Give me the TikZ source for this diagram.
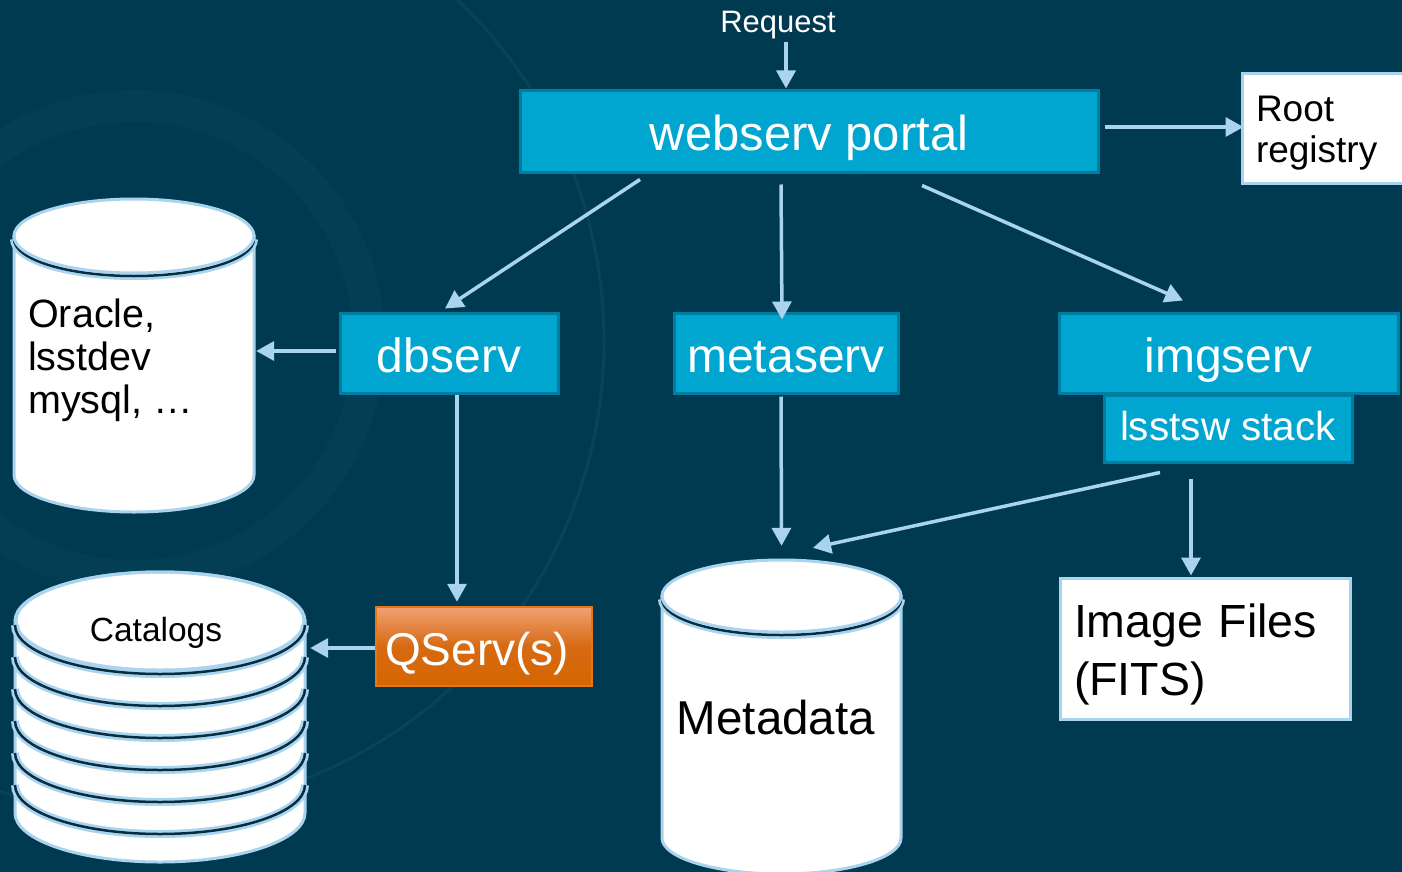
\documentclass[tikz,border=0pt]{standalone}
\usepackage{fontspec}
\setmainfont{Liberation Sans}
\usetikzlibrary{arrows.meta}
\definecolor{bg}{RGB}{0,58,80}
\definecolor{ringc}{RGB}{8,68,92}
\definecolor{ringt}{RGB}{20,78,100}
\definecolor{boxblue}{RGB}{0,165,208}
\definecolor{boxedge}{RGB}{0,126,162}
\definecolor{lineblue}{RGB}{170,212,238}
\definecolor{darkline}{RGB}{8,45,65}
\definecolor{qtop}{RGB}{242,160,115}
\definecolor{qmid}{RGB}{214,106,18}
\definecolor{qbot}{RGB}{214,102,0}
\definecolor{qedge}{RGB}{232,118,22}
\tikzset{
  svc/.style={rectangle, fill=boxblue, draw=boxedge, line width=3pt, text=white, inner sep=0pt, text height=43pt, text depth=5pt},
  wbox/.style={rectangle, fill=white, draw=lineblue, line width=3pt, text=black, align=left, inner xsep=14pt, inner ysep=0pt},
  ghost/.style={rectangle, draw=none, inner sep=0pt},
  arr/.style={draw=lineblue, line width=3.5pt, -{Triangle[length=18pt,width=19pt]}},
  cylbody/.style={fill=white, draw=lineblue, line width=3pt},
  seamlight/.style={draw=lineblue, line width=8pt},
  seamdark/.style={draw=darkline, line width=2.5pt},
}
\begin{document}
\begin{tikzpicture}[x=1pt,y=-1pt]
\useasboundingbox (0,0) rectangle (1402,872);
\clip (0,0) rectangle (1402,872);
\fill[bg] (0,0) rectangle (1402,872);
% faint background rings
\draw[ringc, line width=32pt, opacity=0.45] (134,341) circle[radius=235pt];
\draw[ringt, line width=3pt, opacity=0.45] (134,341) circle[radius=470pt];

% Oracle cylinder
\path[cylbody] (14,236) -- (14,475) arc[start angle=180,end angle=360,x radius=120pt,y radius=37pt] -- (254,236) -- cycle;
\path[seamlight] (14,239) arc[start angle=180,end angle=360,x radius=120pt,y radius=37pt];
\path[seamdark] (14,239) arc[start angle=180,end angle=360,x radius=120pt,y radius=37pt];
\path[cylbody] (134,236) ellipse[x radius=120pt,y radius=37pt];
\node[ghost, minimum width=240pt, minimum height=313pt] (oracle) at (134,355.5) {};
\node[anchor=base west, align=left, inner sep=0pt, text=black, font=\fontsize{39.5}{43}\selectfont] (oracletext) at (28,413) {Oracle,\\lsstdev\\mysql, …};

% Catalogs stack
\path[cylbody] (15,621) -- (15,813) arc[start angle=180,end angle=360,x radius=145pt,y radius=49pt] -- (305,621) -- cycle;
\path[cylbody] (160,621) ellipse[x radius=144pt,y radius=49pt];
\foreach \c in {621,653,685,717,749,781}{
  \path[seamlight] (15,\c+4) arc[start angle=180,end angle=360,x radius=145pt,y radius=49pt];
  \path[seamdark] (15,\c+4) arc[start angle=180,end angle=360,x radius=145pt,y radius=49pt];
}
\path[draw=lineblue, line width=3pt] (15,621) arc[start angle=180,end angle=0,x radius=145pt,y radius=49pt];
\node[ghost, minimum width=290pt, minimum height=290pt] (cat) at (160,717) {};
\node[anchor=base, inner sep=0pt, text=black, font=\fontsize{33.5}{40}\selectfont] (cattext) at (156,641) {Catalogs};

% Metadata cylinder
\path[cylbody] (662,596) -- (662,838) arc[start angle=180,end angle=360,x radius=119.5pt,y radius=36pt] -- (901,596) -- cycle;
\path[seamlight] (662,599) arc[start angle=180,end angle=360,x radius=119.5pt,y radius=36pt];
\path[seamdark] (662,599) arc[start angle=180,end angle=360,x radius=119.5pt,y radius=36pt];
\path[cylbody] (781.5,596) ellipse[x radius=119.5pt,y radius=36pt];
\node[ghost, minimum width=239pt, minimum height=312pt] (metadata) at (781.5,716) {};
\node[anchor=base, inner sep=0pt, text=black, font=\fontsize{47.5}{55}\selectfont] (metatext) at (776,734) {Metadata};

% service boxes
\node[anchor=base, inner sep=0pt, text=white, font=\fontsize{31}{36}\selectfont] (req) at (778,33) {Request};
\node[svc, minimum width=578pt, minimum height=81pt, font=\fontsize{49}{56}\selectfont] (web) at (809,131.5) {webserv portal};
\node[wbox, text width=142pt, minimum height=109pt, font=\fontsize{37}{40.5}\selectfont, text height=28pt, text depth=41pt] (root) at (1327,128.5) {Root\\registry};
\node[svc, minimum width=218pt, minimum height=80pt, font=\fontsize{48}{56}\selectfont] (db) at (449,353) {dbserv};
\node[svc, minimum width=224pt, minimum height=80pt, font=\fontsize{48}{56}\selectfont] (meta) at (786,353) {metaserv};
\node[svc, minimum width=339pt, minimum height=80pt, font=\fontsize{48}{56}\selectfont] (img) at (1228.5,353) {imgserv};
\node[svc, minimum width=248pt, minimum height=67pt, font=\fontsize{40.5}{48}\selectfont, text height=28pt, text depth=5pt] (lsst) at (1228,428.5) {lsstsw stack};
\node[rectangle, top color=qtop, bottom color=qbot, middle color=qmid, draw=qedge, line width=2.5pt, text=white, inner sep=0pt, text height=42pt, text depth=5pt, minimum width=216pt, minimum height=79pt, font=\fontsize{46}{55}\selectfont] (qserv) at (484,646.5) {\hspace*{-14pt}QServ(s)};
\node[wbox, text width=262pt, minimum height=141pt, font=\fontsize{46.5}{58}\selectfont, text height=35pt, text depth=58pt] (imgfiles) at (1205,648.5) {Image Files\\(FITS)};

% connectors
\draw[arr] ([xshift=8pt,yshift=-9pt]req.base) -- ([xshift=-23pt,yshift=1pt]web.north);
\draw[arr] ([xshift=5pt,yshift=4.5pt]web.east) -- ([xshift=3pt,yshift=1.5pt]root.west);
\draw[arr] ([xshift=-169pt,yshift=-6pt]web.south) -- ([xshift=-4pt,yshift=3pt]db.north);
\draw[arr] ([xshift=-28pt,yshift=-11pt]web.south) -- ([xshift=-4pt,yshift=-8pt]meta.north);
\draw[arr] ([xshift=113pt,yshift=-12pt]web.south) -- ([xshift=-45.5pt,yshift=11pt]img.north);
\draw[arr] ([xshift=-3pt,yshift=2pt]db.west) -- ([xshift=2pt,yshift=4.5pt]oracle.east);
\draw[arr] ([xshift=8pt]db.south) -- ([xshift=-27pt,yshift=4pt]qserv.north);
\draw[arr] ([xshift=-5pt,yshift=-2pt]meta.south) -- ([yshift=14pt]metadata.north);
\draw[arr] ([xshift=-68pt,yshift=-9pt]lsst.south) -- ([xshift=31.5pt,yshift=12pt]metadata.north);
\draw[arr] ([xshift=-37pt,yshift=-15pt]lsst.south) -- ([xshift=-14pt,yshift=1pt]imgfiles.north);
\draw[arr] ([yshift=-1.5pt]qserv.west) -- ([xshift=5pt,yshift=69pt]cat.east);
\end{tikzpicture}
\end{document}
